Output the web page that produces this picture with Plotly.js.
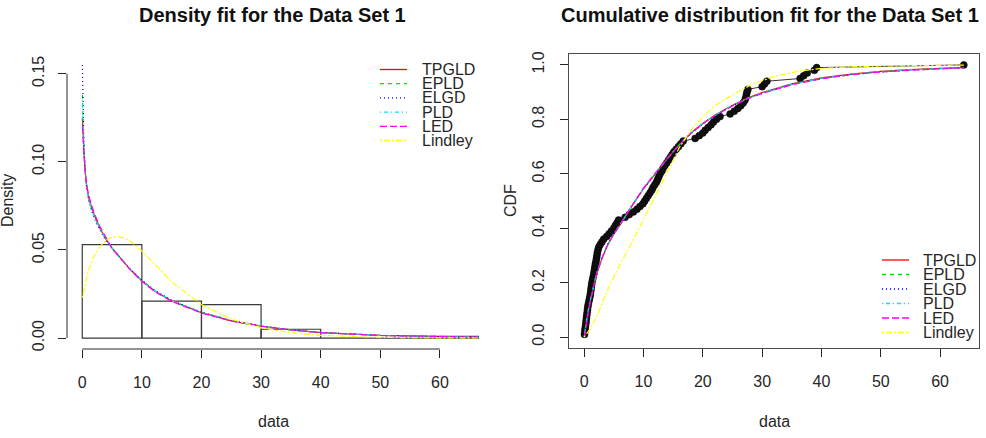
<!DOCTYPE html>
<html>
<head>
<meta charset="utf-8">
<script src="https://cdn.plot.ly/plotly-3.0.1.min.js"></script>
<style>
  html, body { margin: 0; padding: 0; background: #ffffff; }
  #chart { width: 986px; height: 438px; }
</style>
</head>
<body>
<div id="chart"></div>
<script>
// ---- Histogram of the data (density scale, bins of width 10) ----
const binStarts = [0, 10, 20, 30, 40, 50, 60];
const binDensity = [0.053, 0.021, 0.019, 0.005, 0, 0, 0.001];

// ---- Fitted densities ----
const densX = [0.02, 0.15, 0.3, 0.6, 1, 1.5, 2, 3, 4, 5, 6, 8, 10, 12, 15, 20, 25, 30, 35, 40, 50, 60, 66.5];
const densTPGLD = [0.125, 0.112, 0.104, 0.090, 0.081, 0.075, 0.070, 0.062, 0.056, 0.051, 0.047, 0.039, 0.0325, 0.027, 0.021, 0.0144, 0.0098, 0.0068, 0.0046, 0.0031, 0.0015, 0.0008, 0.0005];
const densEPLD = [0.138, 0.118, 0.106, 0.090, 0.080, 0.074, 0.069, 0.062, 0.056, 0.051, 0.047, 0.039, 0.0326, 0.0272, 0.0212, 0.0145, 0.0099, 0.0068, 0.0046, 0.0031, 0.0015, 0.0007, 0.0005];
const densELGD = [0.155, 0.124, 0.107, 0.089, 0.079, 0.073, 0.068, 0.061, 0.055, 0.051, 0.047, 0.0395, 0.033, 0.0275, 0.0215, 0.0147, 0.0100, 0.0069, 0.0047, 0.0032, 0.0015, 0.0007, 0.0005];
const densPLD = [0.135, 0.117, 0.105, 0.090, 0.080, 0.074, 0.069, 0.062, 0.056, 0.051, 0.047, 0.039, 0.0326, 0.0272, 0.0212, 0.0145, 0.0099, 0.0068, 0.0046, 0.0031, 0.0015, 0.0007, 0.0005];
const densLED = [0.120, 0.110, 0.103, 0.091, 0.082, 0.076, 0.071, 0.063, 0.057, 0.051, 0.047, 0.039, 0.0322, 0.0268, 0.0208, 0.0142, 0.0097, 0.0067, 0.0046, 0.0031, 0.0015, 0.0008, 0.0005];
const lindDensX = [0, 0.5, 1, 2, 3, 4, 5, 6, 7, 8, 10, 12, 15, 20, 25, 30, 35, 40, 50, 60, 66.5];
const lindDens = [0.0229, 0.031, 0.038, 0.0465, 0.052, 0.0555, 0.0572, 0.0575, 0.0568, 0.0552, 0.0494, 0.0425, 0.0320, 0.0190, 0.0108, 0.0058, 0.0031, 0.0015, 0.0004, 0.0001, 0.00005];

// ---- Empirical CDF points ----
const ecdfX = [0.05, 0.10, 0.15, 0.22, 0.28, 0.33, 0.38, 0.43, 0.50, 0.55,
               0.60, 0.68, 0.78, 0.88, 0.98, 1.05, 1.12, 1.18, 1.24, 1.30,
               1.40, 1.50, 1.60, 1.68, 1.75, 1.83, 1.90, 2.00, 2.08, 2.15,
               2.22, 2.32, 2.45, 2.70, 3.00, 3.30, 3.80, 4.20, 4.60, 5.00,
               5.25, 5.55, 5.80, 6.90, 7.60, 8.30, 8.90, 9.40, 9.90, 10.20,
               10.50, 10.80, 11.10, 11.40, 11.60, 11.90, 12.20, 12.40, 12.60, 12.80,
               13.10, 13.30, 13.60, 13.90, 14.20, 14.50, 14.80, 15.10, 15.50, 15.90,
               16.30, 16.70, 18.70, 19.40, 20.00, 20.40, 20.90, 21.40, 21.80, 22.30,
               22.90, 24.60, 25.30, 25.90, 26.40, 26.80, 27.10, 27.25, 27.35, 27.45,
               27.60, 30.00, 30.40, 30.80, 36.40, 37.00, 37.60, 38.80, 39.20, 64.00];
const ecdfF = [0.01, 0.02, 0.03, 0.04, 0.05, 0.06, 0.07, 0.08, 0.09, 0.10,
               0.11, 0.12, 0.13, 0.14, 0.15, 0.16, 0.17, 0.18, 0.19, 0.20,
               0.21, 0.22, 0.23, 0.24, 0.25, 0.26, 0.27, 0.28, 0.29, 0.30,
               0.31, 0.32, 0.33, 0.34, 0.35, 0.36, 0.37, 0.38, 0.39, 0.40,
               0.41, 0.42, 0.43, 0.44, 0.45, 0.46, 0.47, 0.48, 0.49, 0.50,
               0.51, 0.52, 0.53, 0.54, 0.55, 0.56, 0.57, 0.58, 0.59, 0.60,
               0.61, 0.62, 0.63, 0.64, 0.65, 0.66, 0.67, 0.68, 0.69, 0.70,
               0.71, 0.72, 0.73, 0.74, 0.75, 0.76, 0.77, 0.78, 0.79, 0.80,
               0.81, 0.82, 0.83, 0.84, 0.85, 0.86, 0.87, 0.88, 0.89, 0.90,
               0.91, 0.92, 0.93, 0.94, 0.95, 0.96, 0.97, 0.98, 0.99, 1.00];

// ---- Fitted CDFs ----
const cdfX = [0, 0.25, 0.5, 1, 1.5, 2, 3, 4, 5, 6, 8, 10, 12, 14, 16, 18, 20, 22, 25, 27.5, 30, 35, 40, 45, 50, 55, 60, 64];
const cdfTPGLD = [0, 0.040, 0.075, 0.130, 0.180, 0.225, 0.290, 0.340, 0.378, 0.410, 0.480, 0.545, 0.600, 0.655, 0.705, 0.750, 0.785, 0.815, 0.852, 0.878, 0.898, 0.930, 0.952, 0.966, 0.976, 0.983, 0.987, 0.990];
const cdfEPLD  = [0, 0.042, 0.077, 0.132, 0.182, 0.226, 0.291, 0.341, 0.379, 0.411, 0.481, 0.546, 0.601, 0.656, 0.706, 0.750, 0.785, 0.815, 0.851, 0.877, 0.897, 0.929, 0.951, 0.965, 0.975, 0.982, 0.986, 0.989];
const cdfELGD  = [0, 0.048, 0.083, 0.138, 0.186, 0.229, 0.293, 0.342, 0.380, 0.412, 0.481, 0.545, 0.600, 0.654, 0.704, 0.748, 0.783, 0.813, 0.850, 0.876, 0.896, 0.928, 0.950, 0.964, 0.974, 0.981, 0.986, 0.989];
const cdfPLD   = [0, 0.041, 0.076, 0.131, 0.181, 0.226, 0.291, 0.341, 0.379, 0.411, 0.481, 0.546, 0.601, 0.656, 0.706, 0.750, 0.785, 0.815, 0.851, 0.877, 0.897, 0.929, 0.951, 0.965, 0.975, 0.982, 0.986, 0.989];
const cdfLED   = [0, 0.036, 0.070, 0.126, 0.177, 0.223, 0.290, 0.341, 0.380, 0.413, 0.483, 0.548, 0.603, 0.657, 0.706, 0.749, 0.784, 0.813, 0.849, 0.875, 0.895, 0.927, 0.949, 0.964, 0.974, 0.981, 0.986, 0.989];
const lindCdfX = [0, 1, 2, 3, 4, 5, 6, 8, 10, 12, 14, 16, 18, 20, 22, 25, 28, 32, 36, 40, 45, 50, 55, 60, 64];
const lindCdf  = [0, 0.030, 0.070, 0.125, 0.175, 0.220, 0.265, 0.345, 0.430, 0.520, 0.605, 0.695, 0.760, 0.810, 0.850, 0.890, 0.925, 0.958, 0.976, 0.987, 0.993, 0.996, 0.998, 0.999, 0.999];

// ---- Axis ticks ----
const xTicks = [0, 10, 20, 30, 40, 50, 60];
const densTicks = [0, 0.05, 0.10, 0.15];
const densTickText = ['0.00', '0.05', '0.10', '0.15'];
const cdfTicks = [0, 0.2, 0.4, 0.6, 0.8, 1.0];
const cdfTickText = ['0.0', '0.2', '0.4', '0.6', '0.8', '1.0'];

// ---- Model styling (R line types 1..6) ----
const modelNames = ['TPGLD', 'EPLD', 'ELGD', 'PLD', 'LED', 'Lindley'];
const modelColors = ['#ff0000', '#00e000', '#0000ff', '#00e8e8', '#ff00ff', '#ffff00'];
const modelDash = ['solid', '4px,4px', '1px,3px', '1px,3px,4px,3px', '7px,3px', '2px,2px,6px,2px'];

const W = 986, H = 438;
const px = v => v / W;          // horizontal pixel -> paper
const py = v => 1 - v / H;      // vertical pixel -> paper

const FONT = 'Liberation Sans, Arial, Helvetica, sans-serif';
const INK = '#262626';

const densY = [densTPGLD, densEPLD, densELGD, densPLD, densLED];
const cdfY = [cdfTPGLD, cdfEPLD, cdfELGD, cdfPLD, cdfLED];

const traces = [];

// histogram bars
traces.push({
  type: 'bar', x: binStarts, y: binDensity, width: 10, offset: 0,
  marker: { color: 'rgba(255,255,255,0)', line: { color: '#3a3a3a', width: 1.2 } },
  xaxis: 'x', yaxis: 'y', hoverinfo: 'skip', showlegend: false
});

// density curves
for (let i = 0; i < 5; i++) {
  traces.push({
    type: 'scatter', mode: 'lines', x: densX, y: densY[i],
    line: { color: modelColors[i], width: 1.2, dash: modelDash[i] },
    xaxis: 'x', yaxis: 'y', showlegend: false, hoverinfo: 'skip'
  });
}
traces.push({
  type: 'scatter', mode: 'lines', x: lindDensX, y: lindDens,
  line: { color: modelColors[5], width: 1.2, dash: modelDash[5] },
  xaxis: 'x', yaxis: 'y', showlegend: false, hoverinfo: 'skip'
});

// empirical CDF
traces.push({
  type: 'scatter', mode: 'lines+markers', x: ecdfX, y: ecdfF,
  line: { color: '#333333', width: 1 },
  marker: { color: '#111111', size: 7, line: { color: '#000000', width: 0.5 } },
  xaxis: 'x2', yaxis: 'y2', showlegend: false, hoverinfo: 'skip'
});

// fitted CDF curves
for (let i = 0; i < 5; i++) {
  traces.push({
    type: 'scatter', mode: 'lines', x: cdfX, y: cdfY[i],
    line: { color: modelColors[i], width: 1.2, dash: modelDash[i] },
    xaxis: 'x2', yaxis: 'y2', showlegend: false, hoverinfo: 'skip'
  });
}
traces.push({
  type: 'scatter', mode: 'lines', x: lindCdfX, y: lindCdf,
  line: { color: modelColors[5], width: 1.2, dash: modelDash[5] },
  xaxis: 'x2', yaxis: 'y2', showlegend: false, hoverinfo: 'skip'
});

const shapes = [];
const annotations = [];

// R-style detached axis lines for the density panel
shapes.push({ type: 'line', xref: 'x', yref: 'y domain', x0: xTicks[0], x1: xTicks[xTicks.length - 1], y0: 0, y1: 0, line: { color: INK, width: 1 } });
shapes.push({ type: 'line', xref: 'x domain', yref: 'y', x0: 0, x1: 0, y0: densTicks[0], y1: densTicks[densTicks.length - 1], line: { color: INK, width: 1 } });

// legends drawn as line samples plus labels
function addLegend(lineX0, lineX1, textX, topY, step) {
  modelNames.forEach((name, i) => {
    const yy = topY + i * step;
    shapes.push({
      type: 'line', xref: 'paper', yref: 'paper',
      x0: px(lineX0), x1: px(lineX1), y0: py(yy), y1: py(yy),
      line: { color: modelColors[i], width: 1.3, dash: modelDash[i] }
    });
    annotations.push({
      xref: 'paper', yref: 'paper', x: px(textX), y: py(yy),
      xanchor: 'left', yanchor: 'middle', showarrow: false, text: name,
      font: { family: FONT, size: 16, color: INK }
    });
  });
}
addLegend(380, 407, 420, 69.5, 14.2);
addLegend(882, 909, 921, 260, 14.5);

// titles and axis labels
annotations.push({ xref: 'paper', yref: 'paper', x: px(272), y: py(15), xanchor: 'center', yanchor: 'middle', showarrow: false,
  text: '<b>Density fit for the Data Set 1</b>', font: { family: FONT, size: 20, color: '#111' } });
annotations.push({ xref: 'paper', yref: 'paper', x: px(770), y: py(15), xanchor: 'center', yanchor: 'middle', showarrow: false,
  text: '<b>Cumulative distribution fit for the Data Set 1</b>', font: { family: FONT, size: 20, color: '#111' } });
annotations.push({ xref: 'paper', yref: 'paper', x: px(273), y: py(421), xanchor: 'center', yanchor: 'middle', showarrow: false,
  text: 'data', font: { family: FONT, size: 16, color: INK } });
annotations.push({ xref: 'paper', yref: 'paper', x: px(774), y: py(421), xanchor: 'center', yanchor: 'middle', showarrow: false,
  text: 'data', font: { family: FONT, size: 16, color: INK } });
annotations.push({ xref: 'paper', yref: 'paper', x: px(7), y: py(201), xanchor: 'center', yanchor: 'middle', showarrow: false,
  textangle: -90, text: 'Density', font: { family: FONT, size: 16, color: INK } });
annotations.push({ xref: 'paper', yref: 'paper', x: px(510), y: py(201), xanchor: 'center', yanchor: 'middle', showarrow: false,
  textangle: -90, text: 'CDF', font: { family: FONT, size: 16, color: INK } });

const tickFont = { family: FONT, size: 16, color: INK };
const baseAxis = {
  showgrid: false, zeroline: false, ticks: 'outside', ticklen: 8, tickwidth: 1,
  tickcolor: INK, tickfont: tickFont, tickmode: 'array', fixedrange: true
};

const layout = {
  width: W, height: H,
  margin: { l: 0, r: 0, t: 0, b: 0, pad: 0 },
  paper_bgcolor: '#ffffff', plot_bgcolor: '#ffffff',
  showlegend: false,
  xaxis: Object.assign({}, baseAxis, {
    domain: [px(67), px(479)], range: [-2.56, 66.56], tickvals: xTicks, anchor: 'y', showline: false,
    ticklabelstandoff: 11
  }),
  yaxis: Object.assign({}, baseAxis, {
    domain: [py(349), py(54)], range: [-0.0062, 0.1612], tickvals: densTicks, ticktext: densTickText,
    tickangle: -90, anchor: 'x', showline: false, ticklabelstandoff: 8
  }),
  xaxis2: Object.assign({}, baseAxis, {
    domain: [px(569), px(979)], range: [-2.56, 66.56], tickvals: xTicks, anchor: 'y2',
    showline: true, mirror: true, linecolor: '#4a4a4a', linewidth: 1.2, ticklabelstandoff: 11
  }),
  yaxis2: Object.assign({}, baseAxis, {
    domain: [py(348), py(54)], range: [-0.04, 1.04], tickvals: cdfTicks, ticktext: cdfTickText,
    tickangle: -90, anchor: 'x2', showline: true, mirror: true, linecolor: '#4a4a4a', linewidth: 1.2,
    ticklabelstandoff: 9
  }),
  shapes: shapes,
  annotations: annotations
};

Plotly.newPlot('chart', traces, layout, { staticPlot: true, displayModeBar: false });
</script>
</body>
</html>
